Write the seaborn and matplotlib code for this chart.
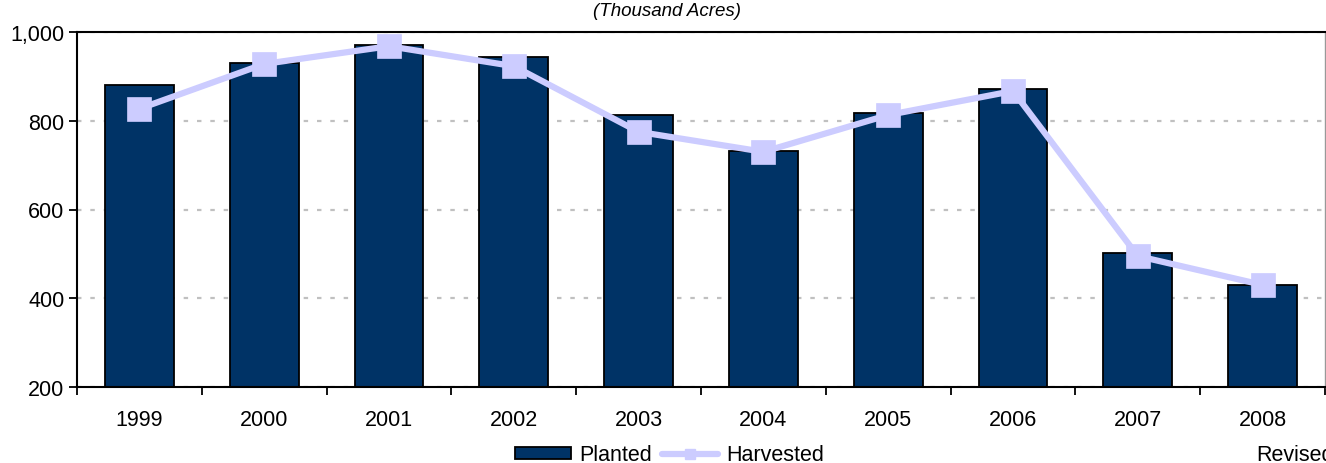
import matplotlib
matplotlib.use('Agg')
import matplotlib.pyplot as plt
import matplotlib.ticker as mticker
from matplotlib.patches import Patch
from matplotlib.lines import Line2D
import seaborn as sns

# Data (thousand acres)
years = ['1999', '2000', '2001', '2002', '2003', '2004', '2005', '2006', '2007', '2008']
planted = [880, 930, 970, 944, 813, 732, 818, 872, 502, 430]
harvested = [827, 928, 968, 923, 775, 730, 813, 867, 495, 430]

sns.set_style('white')
plt.rcParams['font.family'] = ['Liberation Sans', 'DejaVu Sans']
plt.rcParams['text.color'] = 'black'
plt.rcParams['xtick.labelcolor'] = 'black'
plt.rcParams['ytick.labelcolor'] = 'black'

navy = '#003366'
lav = '#CCCCFF'

fig = plt.figure(figsize=(13.26, 4.64), dpi=100)
ax = fig.add_axes([77 / 1326, 1 - 388 / 464, 1248 / 1326, 355 / 464])

# Planted bars
sns.barplot(x=years, y=planted, color=navy, edgecolor='black', linewidth=1.3,
            width=0.55, saturation=1, ax=ax, zorder=2)

# Harvested line
sns.pointplot(x=years, y=harvested, color=lav, markers='s', ax=ax,
              markersize=14, linewidth=4.5, zorder=3)

ax.set_ylim(200, 1000)
ax.set_xlim(-0.5, 9.5)
ax.set_yticks([200, 400, 600, 800, 1000])
ax.yaxis.set_major_formatter(mticker.FuncFormatter(lambda v, p: f'{int(v):,}'))
ax.yaxis.grid(True, color='#C0C0C0', linestyle=(0, (2, 4)), linewidth=1.6, zorder=0)
ax.set_axisbelow(True)

# category boundary ticks on x
ax.set_xticks(range(len(years)))
ax.set_xticklabels(years)
ax.set_xticks([i - 0.5 for i in range(len(years) + 1)], minor=True)
ax.tick_params(axis='x', which='major', length=0, pad=16, labelsize=15.5)
ax.tick_params(axis='x', which='minor', length=6, width=1.3, direction='out', color='black', bottom=True)
ax.tick_params(axis='y', which='major', length=6, width=1.3, direction='out', color='black',
               left=True, labelsize=15.5, pad=3)

for side in ['left', 'bottom', 'top']:
    ax.spines[side].set_visible(True)
    ax.spines[side].set_color('black')
    ax.spines[side].set_linewidth(1.5)
ax.spines['right'].set_visible(True)
ax.spines['right'].set_color('#999999')
ax.spines['right'].set_linewidth(1.0)
ax.set_xlabel('')
ax.set_ylabel('')

fig.text(0.503, 1 - 12 / 464, '(Thousand Acres)', ha='center', va='center',
         fontsize=13.5, style='italic')

handles = [Patch(facecolor=navy, edgecolor='black', linewidth=1.3),
           Line2D([0], [0], color=lav, linewidth=4.5, marker='s', markersize=7)]
fig.legend(handles, ['Planted', 'Harvested'], loc='center', ncol=2,
           bbox_to_anchor=(0.505, 1 - 456 / 464), frameon=False, fontsize=15.5,
           handlelength=2.6, handleheight=0.5, handletextpad=0.35, columnspacing=0.5,
           borderpad=0)

fig.text(1256 / 1326, 1 - 456 / 464, 'Revised', ha='left', va='center', fontsize=15.5)

fig.savefig('out.png', dpi=100)
